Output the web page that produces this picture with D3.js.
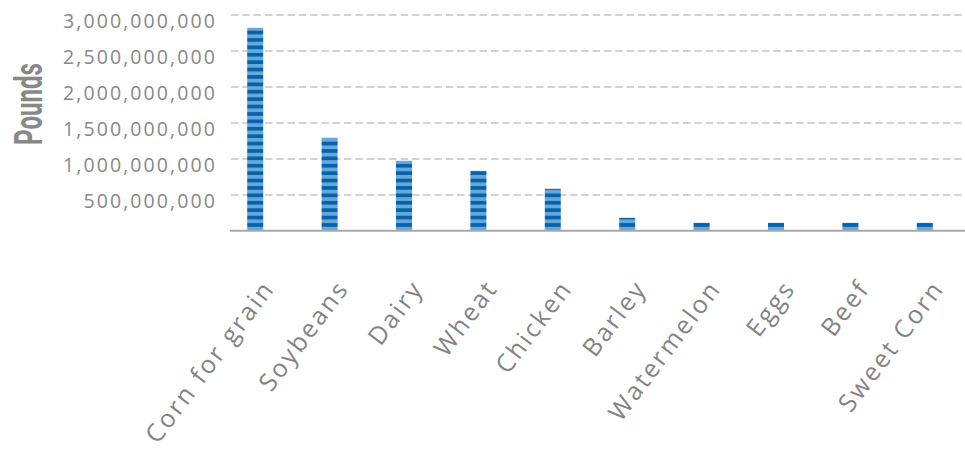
<!DOCTYPE html>
<html>
<head>
<meta charset="utf-8">
<script src="https://cdn.jsdelivr.net/npm/d3@7"></script>
<style>
  html, body { margin: 0; padding: 0; background: #fff; }
  svg { display: block; }
</style>
</head>
<body>
<div id="chart"></div>
<script>
// ---- data ----
const categories = ["Corn for grain", "Soybeans", "Dairy", "Wheat", "Chicken", "Barley", "Watermelon", "Eggs", "Beef", "Sweet Corn"];
const pounds = [2815000000, 1287000000, 968000000, 829000000, 579000000, 176000000, 107000000, 107000000, 107000000, 107000000];
const yTicks = [500000000, 1000000000, 1500000000, 2000000000, 2500000000, 3000000000];
const yTitle = "Pounds";

// ---- layout ----
const W = 965, H = 455;
const plot = { left: 231, right: 963, top: 14.5, bottom: 230.5 };

const svg = d3.select("#chart").append("svg")
  .attr("width", W).attr("height", H);

const x = d3.scalePoint().domain(categories).range([218, 962]).padding(0.5);
const y = d3.scaleLinear().domain([0, 3000000000]).range([plot.bottom, plot.top]);
const barW = 16;

// stripe pattern anchored at baseline
const defs = svg.append("defs");
const pat = defs.append("pattern")
  .attr("id", "stripes")
  .attr("patternUnits", "userSpaceOnUse")
  .attr("x", 0).attr("y", plot.bottom)
  .attr("width", 20).attr("height", 7.4);
pat.append("rect").attr("x", 0).attr("y", 0).attr("width", 20).attr("height", 3.7).attr("fill", "#0663a9");
pat.append("rect").attr("x", 0).attr("y", 3.7).attr("width", 20).attr("height", 3.7).attr("fill", "#67a8dc");

// gridlines
const yAxisGrid = d3.axisLeft(y).tickValues(yTicks).tickSize(-(plot.right - plot.left)).tickFormat("");
const grid = svg.append("g").attr("transform", `translate(${plot.left},0)`).call(yAxisGrid);
grid.select(".domain").remove();
grid.selectAll(".tick line")
  .attr("stroke", "#c4c4c4").attr("stroke-width", 1.6).attr("stroke-dasharray", "7.5,3.8");

// y tick labels
const fmt = d3.format(",");
const yAxis = d3.axisLeft(y).tickValues(yTicks).tickSize(0).tickPadding(0).tickFormat(fmt);
const ya = svg.append("g").attr("transform", `translate(217,6.5)`).call(yAxis);
ya.select(".domain").remove();
ya.selectAll("text")
  .attr("fill", "#888888")
  .style("font-family", "'Open Sans', sans-serif")
  .style("font-size", "19.5px")
  .style("letter-spacing", "2.1px");

// bars
svg.append("g").selectAll("rect").data(categories).join("rect")
  .attr("x", d => x(d) - barW / 2)
  .attr("width", barW)
  .attr("y", (d, i) => y(pounds[i]))
  .attr("height", (d, i) => y(0) - y(pounds[i]))
  .attr("fill", "url(#stripes)");

// baseline
svg.append("line")
  .attr("x1", 230).attr("x2", W)
  .attr("y1", plot.bottom + 0.3).attr("y2", plot.bottom + 0.3)
  .attr("stroke", "#a8a8a8").attr("stroke-width", 2);

// x labels
const xAxis = d3.axisBottom(x).tickSize(0).tickPadding(0);
const xa = svg.append("g").attr("transform", `translate(0,${plot.bottom})`).call(xAxis);
xa.select(".domain").remove();
xa.selectAll("text")
  .attr("fill", "#838383")
  .attr("text-anchor", "end")
  .attr("dy", null)
  .attr("y", 0)
  .attr("transform", "translate(20,58) rotate(-53)")
  .style("font-family", "'Open Sans', sans-serif")
  .style("font-size", "25px")
  .style("letter-spacing", "2.4px");

// y title
svg.append("text")
  .attr("transform", "translate(42,104) rotate(-90)")
  .attr("text-anchor", "middle")
  .attr("fill", "#888888")
  .attr("textLength", 82)
  .attr("lengthAdjust", "spacingAndGlyphs")
  .style("font-family", "Roboto, sans-serif")
  .style("font-weight", "700")
  .style("font-size", "38px")
  .text(yTitle);
</script>
</body>
</html>
